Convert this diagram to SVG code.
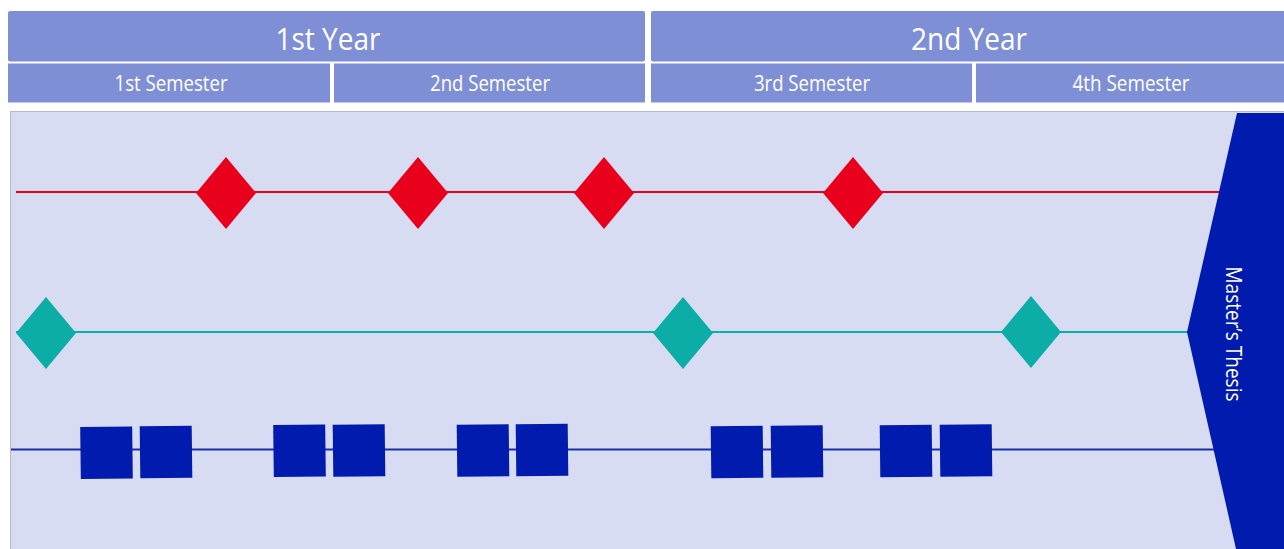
<svg xmlns="http://www.w3.org/2000/svg" width="1284" height="549" viewBox="0 0 1284 549">
<style>
.hdr{fill:#7f8fd6}
.t{fill:#ffffff;font-family:"Open Sans","Noto Sans","DejaVu Sans",sans-serif;text-anchor:middle}
.yr{font-size:31px}
.sem{font-size:22px}
.red{fill:#e8001c}
.teal{fill:#0bada6}
.sq{fill:#001bad}
</style>
<defs>
<polygon id="dia" points="0,-36 30,0 0,36 -30,0"/>
<rect id="box" x="-26" y="-26" width="52" height="52"/>
</defs>
<rect x="0" y="0" width="1284" height="549" fill="#ffffff"/>
<g id="year1">
<rect class="hdr" x="8" y="11" width="637" height="50.5" rx="2"/>
<text class="t yr" x="328" y="50" textLength="105" lengthAdjust="spacingAndGlyphs">1st Year</text>
</g>
<g id="year2">
<rect class="hdr" x="651" y="11" width="640" height="50.5" rx="2"/>
<text class="t yr" x="969" y="50" textLength="116" lengthAdjust="spacingAndGlyphs">2nd Year</text>
</g>
<g id="sem1">
<rect class="hdr" x="8" y="63.5" width="322" height="39"/>
<text class="t sem" x="171" y="91" textLength="113" lengthAdjust="spacingAndGlyphs">1st Semester</text>
</g>
<g id="sem2">
<rect class="hdr" x="334" y="63.5" width="311" height="39"/>
<text class="t sem" x="490" y="91" textLength="120" lengthAdjust="spacingAndGlyphs">2nd Semester</text>
</g>
<g id="sem3">
<rect class="hdr" x="651" y="63.5" width="321" height="39"/>
<text class="t sem" x="812" y="91" textLength="116" lengthAdjust="spacingAndGlyphs">3rd Semester</text>
</g>
<g id="sem4">
<rect class="hdr" x="976" y="63.5" width="315" height="39"/>
<text class="t sem" x="1131" y="91" textLength="117" lengthAdjust="spacingAndGlyphs">4th Semester</text>
</g>
<g id="panel">
<rect x="10.5" y="111.5" width="1280" height="440" fill="#d8dcf2" stroke="#b6b9c6" stroke-width="1"/>
</g>
<g id="connectors" fill="none">
<line x1="16" y1="192" x2="1220" y2="192" stroke="#e8001c" stroke-width="2"/>
<line x1="16" y1="332" x2="1188" y2="332" stroke="#0bada6" stroke-width="2"/>
<line x1="11" y1="449.5" x2="1214" y2="449.5" stroke="#1a2ea8" stroke-width="2"/>
</g>
<g id="red-milestones">
<use href="#dia" class="red" x="226" y="193"/>
<use href="#dia" class="red" x="418" y="193"/>
<use href="#dia" class="red" x="604" y="193"/>
<use href="#dia" class="red" x="853" y="193"/>
</g>
<g id="teal-milestones">
<use href="#dia" class="teal" x="46" y="333"/>
<use href="#dia" class="teal" x="683" y="333"/>
<use href="#dia" class="teal" x="1031" y="332"/>
</g>
<g id="modules">
<use href="#box" class="sq" transform="translate(106.5 452.7) rotate(-0.7)"/>
<use href="#box" class="sq" transform="translate(166 452) rotate(-0.7)"/>
<use href="#box" class="sq" transform="translate(299.5 450.8) rotate(-0.7)"/>
<use href="#box" class="sq" transform="translate(359 450.5) rotate(-0.7)"/>
<use href="#box" class="sq" transform="translate(483 450.5) rotate(-0.7)"/>
<use href="#box" class="sq" transform="translate(542 450) rotate(-0.7)"/>
<use href="#box" class="sq" transform="translate(737 452) rotate(-0.7)"/>
<use href="#box" class="sq" transform="translate(797 451.5) rotate(-0.7)"/>
<use href="#box" class="sq" transform="translate(906 451) rotate(-0.7)"/>
<use href="#box" class="sq" transform="translate(966 450.5) rotate(-0.7)"/>
</g>
<g id="thesis">
<polygon points="1237,113 1284,113 1284,549 1236,549 1187,332" fill="#001bad"/>
<text class="t" font-size="21" transform="translate(1226 334) rotate(90)" textLength="135" lengthAdjust="spacingAndGlyphs">Master’s Thesis</text>
</g>
</svg>
